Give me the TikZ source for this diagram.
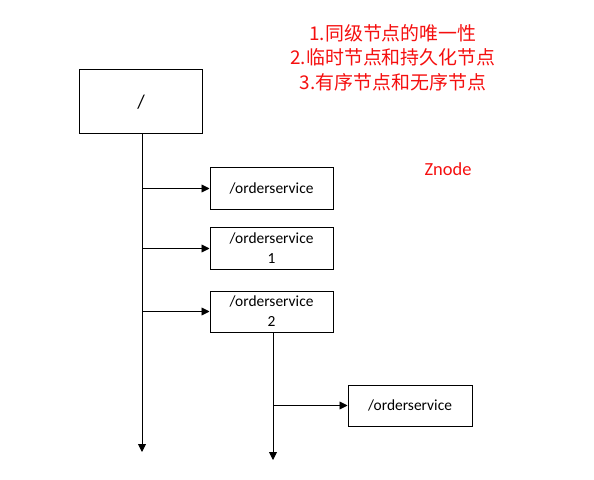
\documentclass[tikz,border=0pt]{standalone}
\usepackage{fontspec}
\setmainfont{Carlito}
\newfontfamily\cjk{Noto Sans CJK SC}
\usetikzlibrary{arrows.meta}
\definecolor{notered}{RGB}{245,15,15}
\tikzset{
  zbox/.style={draw=black, line width=1bp, minimum width=123bp, minimum height=41bp, inner sep=0pt, align=center, font=\fontsize{15.5}{20}\selectfont},
  conn/.style={draw=black, line width=0.9bp, -{Triangle[length=8bp,width=8bp]}},
  redtext/.style={text=notered, align=center, inner sep=0pt}
}
\begin{document}
\begin{tikzpicture}[x=1bp,y=-1bp]
\useasboundingbox (0,0) rectangle (594,480);
\node[zbox, minimum height=64bp, font=\fontsize{19.5}{20}\selectfont] (root) at (141,102) {/};
\node[zbox] (b1) at (271.5,188.5) {/orderservice};
\node[zbox] (b2) at (271.5,248.5) {/orderservice\\1};
\node[zbox] (b3) at (271.5,311.5) {/orderservice\\2};
\node[zbox, minimum width=124bp] (b4) at (410,405.5) {/orderservice};
\coordinate (end1) at (142,452);
\coordinate (end2) at (273,460);
\draw[conn] (root.south -| end1) -- (end1);
\draw[conn] (b3.south -| end2) -- (end2);
\draw[conn] (b1.west -| end1) -- (b1.west);
\draw[conn] (b2.west -| end1) -- (b2.west);
\draw[conn] (b3.west -| end1) -- (b3.west);
\draw[conn] (b4.west -| end2) -- (b4.west);
\node[redtext, font=\cjk\fontsize{19}{24.5}\selectfont] (notes) at (393,57.5) {1.同级节点的唯一性\\2.临时节点和持久化节点\\3.有序节点和无序节点};
\node[redtext, font=\fontsize{18.5}{20}\selectfont] (znode) at (448,169) {Znode};
\end{tikzpicture}
\end{document}
